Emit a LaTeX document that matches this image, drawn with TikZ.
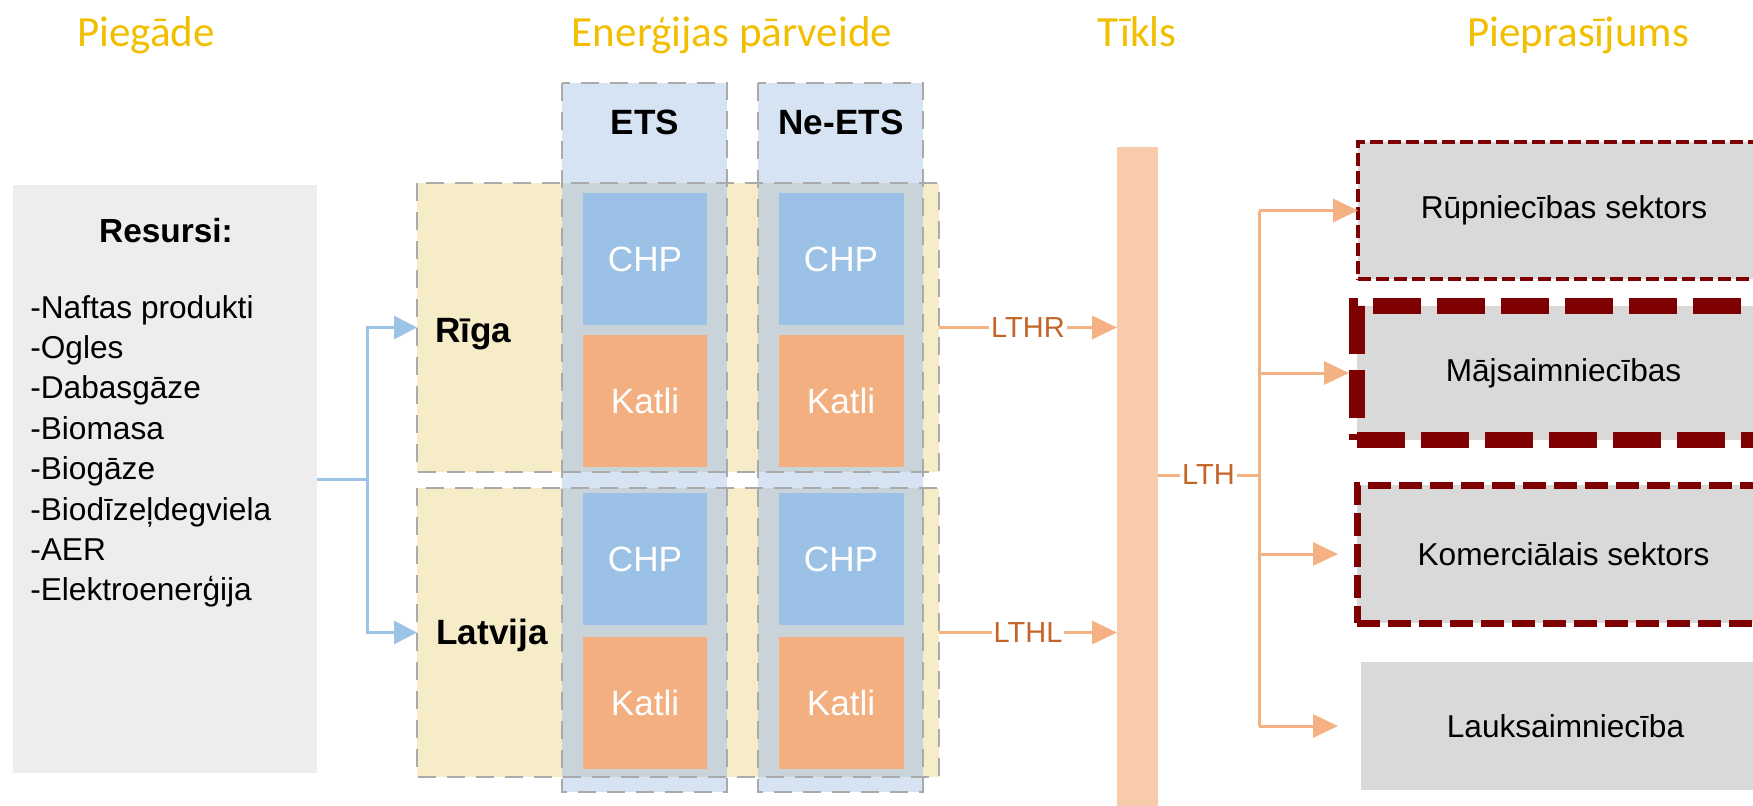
\documentclass[tikz,border=0pt]{standalone}
\usepackage{fontspec}
\setmainfont{Liberation Sans}
\newfontfamily\headfont{Carlito}
\usetikzlibrary{arrows.meta,fit,positioning}

\definecolor{headyellow}{RGB}{242,190,0}
\definecolor{resgray}{RGB}{237,237,237}
\definecolor{demgray}{RGB}{217,217,217}
\definecolor{regionyellow}{RGB}{246,236,200}
\definecolor{colblue}{RGB}{213,227,242}
\definecolor{overlapblue}{RGB}{200,212,218}
\definecolor{framegray}{RGB}{170,170,170}
\definecolor{chpblue}{RGB}{155,194,230}
\definecolor{katliorange}{RGB}{243,175,128}
\definecolor{gridorange}{RGB}{248,203,173}
\definecolor{flowblue}{RGB}{157,195,230}
\definecolor{floworange}{RGB}{244,177,131}
\definecolor{lthtext}{RGB}{196,100,40}
\definecolor{darkred}{RGB}{127,0,0}

\begin{document}
\begin{tikzpicture}[
        x=0.02cm, y=-0.02cm,
        head/.style = {anchor=base, text=headyellow, inner sep=0pt,
                font=\headfont\fontsize{24.5}{29}\selectfont},
        box/.style = {inner sep=0pt, outer sep=0pt},
        region/.style = {box, fill=regionyellow},
        col/.style = {box, fill=colblue},
        frame/.style = {draw=framegray, line width=0.04cm,
                dash pattern=on 0.36cm off 0.22cm},
        bold/.style = {inner sep=0pt, font=\bfseries\fontsize{20}{24}\selectfont},
        item/.style = {anchor=base west, inner sep=0pt, font=\fontsize{18}{22}\selectfont},
        unit/.style = {box, text=white, minimum width=2.5cm, minimum height=2.64cm,
                font=\fontsize{20}{24}\selectfont},
        chp/.style = {unit, fill=chpblue},
        katli/.style = {unit, fill=katliorange},
        dem/.style = {box, fill=demgray},
        demtxt/.style = {inner sep=0pt, font=\fontsize{18}{22}\selectfont},
        bline/.style = {draw=flowblue, line width=0.06cm},
        barrow/.style = {bline, -{Triangle[length=0.46cm,width=0.46cm]}},
        oline/.style = {draw=floworange, line width=0.06cm},
        oarrow/.style = {oline, -{Triangle[length=0.5cm,width=0.46cm]}},
        lbl/.style = {fill=white, text=lthtext, inner xsep=0.04cm, inner ysep=0pt,
                font=\fontsize{16.5}{18}\selectfont},
        ]
        \useasboundingbox (0,0) rectangle (1753,805);

        % column headings
        \node[head] (h1) at (146,46) {Piegāde};
        \node[head] (h2) at (732,46) {Enerģijas pārveide};
        \node[head] (h3) at (1137,46) {Tīkls};
        \node[head] (h4) at (1578,46) {Pieprasījums};

        % resources
        \node[box, fill=resgray, fit={(13,185) (317,773)}] (res) {};
        \node[bold, anchor=base, font=\bfseries\fontsize{19}{23}\selectfont] (rtitle) at (166,242) {Resursi:};
        \foreach \t [count=\i] in {-Naftas produkti,-Ogles,-Dabasgāze,-Biomasa,
                -Biogāze,-Biodīzeļdegviela,-AER,-Elektroenerģija}
            \node[item] (r\i) at (30,{318+40.4*(\i-1)}) {\t};

        % conversion: regions and ETS / non-ETS columns
        \node[region, fit={(417,183) (939,472)}] (riga) {};
        \node[region, fit={(417,488) (939,777)}] (latv) {};
        \node[col, fit={(562,83) (727,792)}] (ets) {};
        \node[col, fit={(758,83) (923,792)}] (nets) {};
        \foreach \c in {ets,nets}
            \foreach \r in {riga,latv}
                \fill[overlapblue] (\c.west |- \r.north) rectangle (\c.east |- \r.south);
        \foreach \n in {riga,latv,ets,nets}
            \draw[frame] (\n.north west) rectangle (\n.south east);

        \node[bold, anchor=base] (etstxt) at (645,134) {ETS};
        \node[bold, anchor=base] (netstxt) at (841,134) {Ne-ETS};
        \node[bold, anchor=base west] (rigatxt) at (435,342) {Rīga};
        \node[bold, anchor=base west] (latvtxt) at (436,644) {Latvija};

        \foreach \c/\x in {e/645,n/841}
            \foreach \r/\y/\g in {r/259/0.2cm,l/559/0.24cm} {
                \node[chp] (chp\c\r) at (\x,\y) {CHP};
                \node[katli, below=\g of chp\c\r] (kat\c\r) {Katli};
            }

        % network
        \node[box, fill=gridorange, fit={(1117,147) (1158,815)}] (grid) {};

        % demand sectors
        \node[dem, fit={(1358,142) (1770,279)}, draw=darkred, line width=0.08cm,
            dash pattern=on 0.26cm off 0.1cm] (rup) {};
        \node[dem, fit={(1357,306) (1770,440)}, draw=darkred, line width=0.32cm,
            dash pattern=on 0.96cm off 0.32cm] (maj) {};
        \node[dem, fit={(1357,485) (1770,623)}, draw=darkred, line width=0.14cm,
            dash pattern=on 0.46cm off 0.16cm] (kom) {};
        \node[dem, fit={(1361,662) (1770,790)}] (lauk) {};
        \node[demtxt] (ruptxt) at (rup.center) {Rūpniecības sektors};
        \node[demtxt] (majtxt) at (maj.center) {Mājsaimniecības};
        \node[demtxt] (komtxt) at (kom.center) {Komerciālais sektors};
        \node[demtxt] (lauktxt) at (lauk.center) {Lauksaimniecība};

        % supply flows
        \coordinate (fork) at (367,479);
        \draw[bline] (res.east) -- (fork);
        \draw[barrow] (fork) |- (riga.west);
        \draw[barrow] (fork) |- (latv.west);

        % heat flows
        \draw[oarrow] (riga.east) -- (riga.east -| grid.west) node[lbl, midway] {LTHR};
        \draw[oarrow] (latv.east) -- (latv.east -| grid.west) node[lbl, midway] {LTHL};
        \coordinate (bus) at (1259,475);
        \draw[oline] (grid.east |- bus) -- (bus) node[lbl, midway] {LTH};
        \draw[oline] (bus |- rup.west) -- (bus |- lauk.west);
        \foreach \d/\s in {rup/0pt,maj/0.16cm,kom/0.38cm,lauk/0.46cm}
            \draw[oarrow, shorten >=\s] (bus |- \d.west) -- (\d.west);
\end{tikzpicture}
\end{document}
